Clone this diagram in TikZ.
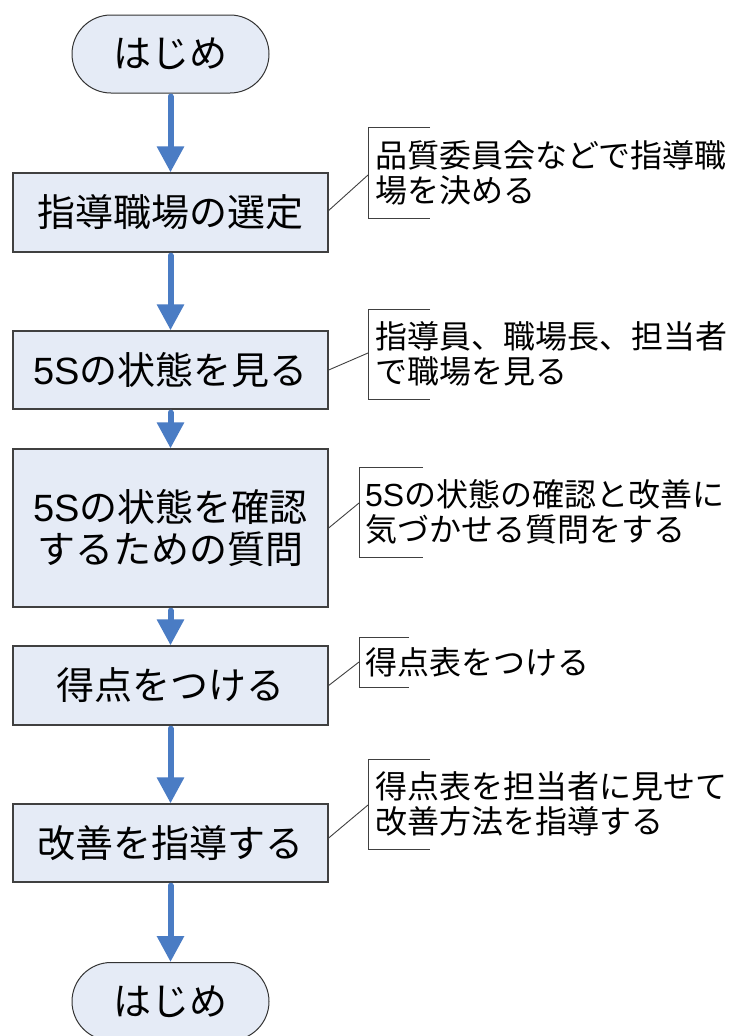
\documentclass[tikz,border=0pt]{standalone}
\usepackage{fontspec}
\newfontfamily\jp{Noto Sans CJK JP}
\newfontfamily\lat{Liberation Sans}
\usetikzlibrary{arrows.meta}
\definecolor{boxfill}{HTML}{E5EBF6}
\definecolor{boxline}{HTML}{404040}
\definecolor{arrowblue}{HTML}{4A7CC4}
\tikzset{
  stepbox/.style={draw=boxline, line width=1.3pt, fill=boxfill, inner sep=0pt, minimum width=315pt, font=\jp\fontsize{38}{42}\selectfont, align=center},
  termbox/.style={draw=black!80, line width=1pt, fill=boxfill, inner sep=0pt, minimum width=197pt, minimum height=78pt, rounded corners=39pt, font=\jp\fontsize{38}{42}\selectfont},
  flow/.style={draw=arrowblue, line width=6pt, line cap=round, -{Triangle[width=26pt,length=26pt]}},
  note/.style={anchor=west, inner sep=0pt, align=left, font=\jp\fontsize{32}{35}\selectfont},
  bracket/.style={draw=black!75, line width=0.9pt},
  lead/.style={draw=black!75, line width=0.9pt}
}
\begin{document}
\begin{tikzpicture}[x=1pt,y=-1pt]
\useasboundingbox (0,0) rectangle (738,1036);
\clip (0,0) rectangle (738,1036);
\fill[white] (0,0) rectangle (738,1036);
% flow nodes
\node[termbox] (start) at (170.5,54) {はじめ};
\node[stepbox, minimum height=79pt] (s1) at (170.5,212.5) {指導職場の選定};
\node[stepbox, minimum height=78pt] (s2) at (170.5,370) {{\lat 5S}の状態を見る};
\node[stepbox, minimum height=158pt] (s3) at (170.5,528) {{\lat 5S}の状態を確認\\するための質問};
\node[stepbox, minimum height=79pt] (s4) at (170.5,685.5) {得点をつける};
\node[stepbox, minimum height=78pt] (s5) at (170.5,843) {改善を指導する};
\node[termbox] (end) at (170.5,1001.5) {はじめ};
% arrows
\draw[flow] ([yshift=-3pt]start.south) -- (s1.north);
\draw[flow] ([yshift=-3pt]s1.south) -- (s2.north);
\draw[flow] ([yshift=-3pt]s2.south) -- (s3.north);
\draw[flow] ([yshift=-3pt]s3.south) -- (s4.north);
\draw[flow] ([yshift=-3pt]s4.south) -- (s5.north);
\draw[flow] ([yshift=-3pt]s5.south) -- (end.north);
% annotation 1
\draw[bracket] (430,127) -- (368,127) -- (368,218) -- (430,218);
\coordinate (c1) at (368,175);
\node[note] (n1) at (375,172.5) {品質委員会などで指導職\\場を決める};
\draw[lead] (s1.east) ++(0,-2) -- (c1);
% annotation 2
\draw[bracket] (430,309) -- (368,309) -- (368,399) -- (430,399);
\coordinate (c2) at (368,353);
\node[note] (n2) at (375,354) {指導員、職場長、担当者\\で職場を見る};
\draw[lead] (s2.east) -- (c2);
% annotation 3
\draw[bracket] (423,467) -- (359,467) -- (359,557) -- (423,557);
\coordinate (c3) at (359,503);
\node[note] (n3) at (365,512) {{\lat 5S}の状態の確認と改善に\\気づかせる質問をする};
\draw[lead] (s3.east) -- (c3);
% annotation 4
\draw[bracket] (409,637) -- (359,637) -- (359,687) -- (409,687);
\coordinate (c4) at (359,662);
\node[note] (n4) at (365,662) {得点表をつける};
\draw[lead] (s4.east) -- (c4);
% annotation 5
\draw[bracket] (430,759) -- (368,759) -- (368,849) -- (430,849);
\coordinate (c5) at (368,805);
\node[note] (n5) at (375,804) {得点表を担当者に見せて\\改善方法を指導する};
\draw[lead] (s5.east) ++(0,-5) -- (c5);
\end{tikzpicture}
\end{document}
